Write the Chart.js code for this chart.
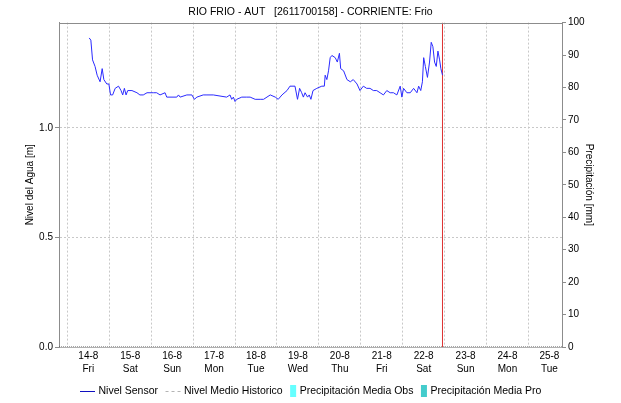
<!DOCTYPE html>
<html>
<head>
<meta charset="utf-8">
<script src="https://cdn.jsdelivr.net/npm/chart.js@4.4.0/dist/chart.umd.min.js"></script>
<style>
  html, body { margin: 0; padding: 0; background: #fff; }
  #grafico { display: block; }
</style>
</head>
<body>
<canvas id="grafico" width="621" height="403"></canvas>
<script>
// ---------- datos ----------
const titulo = "RIO FRIO - AUT   [2611700158] - CORRIENTE: Frio";

// eje X en dias del mes (agosto)
const rangoDias = [13.3, 25.3];
const diasTicks = [14, 15, 16, 17, 18, 19, 20, 21, 22, 23, 24, 25];
const etiquetasFecha = ["14-8", "15-8", "16-8", "17-8", "18-8", "19-8", "20-8", "21-8", "22-8", "23-8", "24-8", "25-8"];
const diasSemana = ["Fri", "Sat", "Sun", "Mon", "Tue", "Wed", "Thu", "Fri", "Sat", "Sun", "Mon", "Tue"];

// nivel del sensor [m]
const nivelDias = [
  14.02, 14.06, 14.10, 14.16, 14.21, 14.28, 14.33, 14.37, 14.44, 14.49,
  14.53, 14.58, 14.64, 14.72, 14.78, 14.82, 14.86, 14.90, 14.94, 15.04,
  15.16, 15.23, 15.31, 15.40, 15.47, 15.55, 15.63, 15.71, 15.83, 15.87,
  16.11, 16.15, 16.19, 16.35, 16.47, 16.53, 16.59, 16.74, 16.83, 16.98,
  17.30, 17.38, 17.42, 17.46, 17.50, 17.54, 17.66, 17.78, 17.86, 17.98,
  18.10, 18.18, 18.34, 18.46, 18.53, 18.62, 18.74, 18.81, 18.93, 18.99,
  19.04, 19.09, 19.13, 19.17, 19.23, 19.27, 19.31, 19.36, 19.45, 19.57,
  19.63, 19.65, 19.69, 19.73, 19.77, 19.81, 19.89, 19.94, 19.99, 20.02,
  20.09, 20.17, 20.25, 20.32, 20.41, 20.48, 20.56, 20.64, 20.72, 20.80,
  20.88, 20.96, 21.04, 21.12, 21.20, 21.28, 21.36, 21.44, 21.48, 21.52,
  21.60, 21.68, 21.76, 21.84, 21.88, 21.93, 21.97, 22.00, 22.04, 22.09,
  22.14, 22.18, 22.22, 22.26, 22.30, 22.34, 22.38, 22.41, 22.45
];
const nivelValores = [
  1.41, 1.40, 1.31, 1.28, 1.24, 1.21, 1.27, 1.22, 1.20, 1.20,
  1.15, 1.15, 1.18, 1.19, 1.17, 1.15, 1.18, 1.15, 1.17, 1.17,
  1.16, 1.15, 1.15, 1.16, 1.16, 1.16, 1.16, 1.15, 1.16, 1.14,
  1.14, 1.15, 1.14, 1.15, 1.15, 1.13, 1.14, 1.15, 1.15, 1.15,
  1.14, 1.15, 1.13, 1.14, 1.12, 1.13, 1.14, 1.14, 1.14, 1.13,
  1.13, 1.13, 1.15, 1.14, 1.13, 1.15, 1.17, 1.19, 1.19, 1.13,
  1.18, 1.16, 1.14, 1.16, 1.14, 1.15, 1.13, 1.17, 1.18, 1.19,
  1.19, 1.24, 1.22, 1.26, 1.32, 1.33, 1.32, 1.30, 1.34, 1.27,
  1.26, 1.22, 1.21, 1.22, 1.20, 1.17, 1.19, 1.18, 1.18, 1.17,
  1.17, 1.16, 1.15, 1.17, 1.16, 1.16, 1.15, 1.19, 1.14, 1.18,
  1.16, 1.16, 1.18, 1.16, 1.19, 1.17, 1.21, 1.32, 1.28, 1.23,
  1.30, 1.39, 1.37, 1.30, 1.28, 1.35, 1.31, 1.27, 1.24
];

// nivel medio historico (sin datos, queda en cero)
const historicoValores = [0, 0];

// precipitacion [mm] (vacia en este periodo)
const precipObs = [];
const precipPro = [];

// ejes Y
const rangoNivel = [0, 1.48];
const nivelTicks = [0, 0.5, 1.0];
const precipTicks = [0, 10, 20, 30, 40, 50, 60, 70, 80, 90, 100];

// hora actual
const diaActual = 22.449;

// ---------- grafico ----------
Chart.defaults.font.family = "'Liberation Sans', Arial, sans-serif";
Chart.defaults.font.size = 10;
Chart.defaults.color = "#000";

const GRIS = "#8c8c8c";
const GRILLA = "#c8c8c8";

// marco superior del area de trazado
const marco = {
  id: "marco",
  afterDraw(chart) {
    const { ctx, chartArea: a } = chart;
    ctx.save();
    ctx.strokeStyle = GRIS;
    ctx.lineWidth = 1;
    ctx.beginPath();
    ctx.moveTo(a.left, Math.round(a.top) + 0.5);
    ctx.lineTo(a.right, Math.round(a.top) + 0.5);
    ctx.stroke();
    ctx.restore();
  }
};

// leyenda propia: linea para las series de nivel, caja para precipitacion
const leyenda = {
  id: "leyenda",
  afterDraw(chart) {
    const { ctx } = chart;
    const items = chart.data.datasets.filter(d => d.label);
    ctx.save();
    ctx.font = "10.5px 'Liberation Sans', Arial, sans-serif";
    ctx.textBaseline = "middle";
    const y = 391;
    const anchos = items.map(d => (d.type === "bar" ? 6 : 15) + 3.5 + ctx.measureText(d.label).width);
    const sep = 7.5;
    const total = anchos.reduce((s, w) => s + w, 0) + sep * (items.length - 1);
    let x = Math.round((chart.width - total) / 2);
    items.forEach(d => {
      if (d.type === "bar") {
        ctx.fillStyle = d.backgroundColor;
        ctx.fillRect(x, y - 6, 6, 12);
        x += 6;
      } else {
        ctx.strokeStyle = d.legendColor || d.borderColor;
        ctx.lineWidth = 1;
        ctx.setLineDash(d.legendDash || []);
        ctx.beginPath();
        ctx.moveTo(x, y + 0.5);
        ctx.lineTo(x + 15, y + 0.5);
        ctx.stroke();
        ctx.setLineDash([]);
        x += 15;
      }
      x += 3.5;
      ctx.fillStyle = "#000";
      ctx.fillText(d.label, x, y);
      x += ctx.measureText(d.label).width + sep;
    });
    ctx.restore();
  }
};

new Chart(document.getElementById("grafico"), {
  data: {
    datasets: [
      {
        type: "line",
        label: "Nivel Sensor",
        data: nivelDias.map((d, i) => ({ x: d, y: nivelValores[i] })),
        borderColor: "#2a2aff",
        legendColor: "#1010c0",
        borderWidth: 1,
        pointRadius: 0,
        tension: 0,
        yAxisID: "y"
      },
      {
        type: "line",
        label: "Nivel Medio Historico",
        data: rangoDias.map((d, i) => ({ x: d, y: historicoValores[i] })),
        borderColor: "#505050",
        borderDash: [1, 1],
        legendColor: "#b4b4b4",
        legendDash: [3, 3],
        borderWidth: 1,
        pointRadius: 0,
        yAxisID: "y"
      },
      {
        type: "bar",
        label: "Precipitación Media Obs",
        data: precipObs,
        backgroundColor: "#66ffff",
        yAxisID: "yP"
      },
      {
        type: "bar",
        label: "Precipitación Media Pro",
        data: precipPro,
        backgroundColor: "#44cccc",
        yAxisID: "yP"
      },
      {
        type: "line",
        data: [{ x: diaActual, y: 0 }, { x: diaActual, y: 100 }],
        borderColor: "#dd3333",
        borderWidth: 1,
        pointRadius: 0,
        yAxisID: "yP"
      }
    ]
  },
  options: {
    responsive: false,
    animation: false,
    layout: { padding: 0 },
    plugins: {
      legend: { display: false },
      tooltip: { enabled: false },
      title: {
        display: true,
        text: titulo,
        font: { size: 10.5, weight: "normal" },
        color: "#000",
        padding: { top: 6, bottom: 4 }
      }
    },
    scales: {
      x: {
        type: "linear",
        offset: false,
        min: rangoDias[0],
        max: rangoDias[1],
        afterBuildTicks: s => { s.ticks = diasTicks.map(v => ({ value: v })); },
        afterFit: s => { s.height = 56; },
        ticks: {
          autoSkip: false,
          maxRotation: 0,
          padding: 3,
          font: { size: 10, lineHeight: 1.3 },
          callback: v => {
            const k = diasTicks.indexOf(v);
            return [etiquetasFecha[k], diasSemana[k]];
          }
        },
        grid: { color: GRILLA, drawTicks: false },
        border: { display: true, color: "#b0b0b0", dash: [2, 2] }
      },
      y: {
        position: "left",
        min: rangoNivel[0],
        max: rangoNivel[1],
        afterBuildTicks: s => { s.ticks = nivelTicks.map(v => ({ value: v })); },
        afterFit: s => { s.width = 59; },
        ticks: { padding: 2, callback: v => v.toFixed(1) },
        grid: { color: GRILLA, tickColor: GRIS, tickLength: 4, tickBorderDash: [] },
        border: { display: true, color: GRIS, dash: [2, 2] },
        title: {
          display: true,
          text: "Nivel del Agua [m]",
          font: { size: 10 },
          padding: { top: 24, bottom: 0 }
        }
      },
      yP: {
        position: "right",
        min: 0,
        max: 100,
        afterBuildTicks: s => { s.ticks = precipTicks.map(v => ({ value: v })); },
        afterFit: s => { s.width = 59; },
        ticks: { padding: 2 },
        grid: { drawOnChartArea: false, color: GRIS, tickLength: 4 },
        border: { display: true, color: GRIS },
        title: {
          display: true,
          text: "Precipitación [mm]",
          font: { size: 10 },
          padding: { top: 26, bottom: 0 }
        }
      }
    }
  },
  plugins: [marco, leyenda]
});
</script>
</body>
</html>
